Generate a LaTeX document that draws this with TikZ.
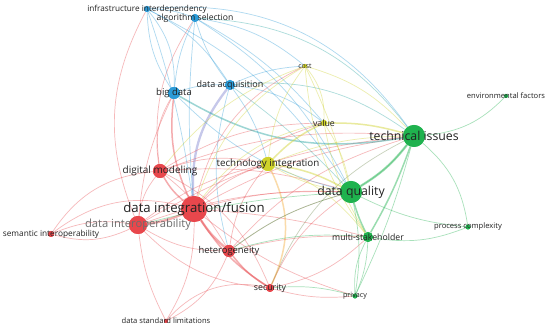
\documentclass[tikz,border=0pt]{standalone}
\usepackage{fontspec}
\setmainfont{Open Sans}
\definecolor{cR}{HTML}{E8474C}
\definecolor{cB}{HTML}{2B9BD8}
\definecolor{cG}{HTML}{1FB24E}
\definecolor{cY}{HTML}{CFD22A}
\definecolor{cL}{HTML}{8E92D6}
\definecolor{txt}{HTML}{222222}
\tikzset{
  nd/.style={circle,inner sep=0pt,draw=none},
  lbl/.style={text=txt,inner sep=0pt},
  e/.style={line width=0.7pt,draw opacity=0.38},
  eR/.style={e,draw=cR},
  eB/.style={e,draw=cB},
  eG/.style={e,draw=cG},
  eY/.style={e,draw=cY},
  eT/.style={e,draw=cB!60!cG},
  eO/.style={e,draw=orange!70!cY},
  eRG/.style={e,draw=cR!40!cG},
  thick1/.style={line width=1.5pt,draw opacity=0.45},
  thick2/.style={line width=2.3pt,draw opacity=0.45},
}
\begin{document}
\begin{tikzpicture}[x=1pt,y=-1pt]
\useasboundingbox[fill=white] (0,0) rectangle (550,328);
% nodes
\node[nd,fill=cB,minimum size=6pt] (inf) at (147,9) {};
\node[nd,fill=cB,minimum size=8pt] (alg) at (195,18) {};
\node[nd,fill=cB,minimum size=12pt] (big) at (174,93) {};
\node[nd,fill=cB,minimum size=10pt] (acq) at (230,85) {};
\node[nd,fill=cY,minimum size=4pt] (cost) at (305,66) {};
\node[nd,fill=cY,minimum size=6pt] (val) at (324,123) {};
\node[nd,fill=cG,minimum size=22pt] (tech) at (414,136) {};
\node[nd,fill=cG,minimum size=4pt] (env) at (506,96) {};
\node[nd,fill=cY,minimum size=14pt] (ti) at (268,164) {};
\node[nd,fill=cR,minimum size=14pt] (dm) at (160,171) {};
\node[nd,fill=cR,minimum size=26pt] (dif) at (194,209) {};
\node[nd,fill=cR,minimum size=18pt] (dio) at (138,225) {};
\node[nd,fill=cR,minimum size=6pt] (sem) at (51,234) {};
\node[nd,fill=cR,minimum size=12pt] (het) at (229,251) {};
\node[nd,fill=cR,minimum size=8pt] (sec) at (270,288) {};
\node[nd,fill=cR,minimum size=4pt] (dsl) at (166,321) {};
\node[nd,fill=cG,minimum size=22pt] (dq) at (351,192) {};
\node[nd,fill=cG,minimum size=10pt] (ms) at (368,237) {};
\node[nd,fill=cG,minimum size=5pt] (pc) at (468,227) {};
\node[nd,fill=cG,minimum size=5pt] (pri) at (355,296) {};
% red cluster edges
\draw[eR,thick2] (dif) to[bend left=8] (dio);
\draw[eR,thick1] (dif) to[bend left=10] (dm);
\draw[eR,thick2] (dif) to[bend right=8] (het);
\draw[eR,thick1] (dif) to[bend right=12] (sec);
\draw[eR] (dif) to[bend right=25] (sem);
\draw[eR] (dio) to[bend left=20] (sem);
\draw[eR] (dio) to[bend right=15] (sem);
\draw[eR] (dm) to[bend right=25] (sem);
\draw[eR] (dif) to[bend left=15] (dsl);
\draw[eR] (dio) to[bend right=10] (dsl);
\draw[eR] (het) to[bend left=20] (dsl);
\draw[eR] (sec) to[bend right=30] (dsl);
\draw[eR] (dm) to[bend right=15] (dio);
\draw[eR] (dm) to[bend left=10] (het);
\draw[eR] (dm) to[bend left=20] (sec);
\draw[eR] (dio) to[bend right=15] (het);
\draw[eR] (dio) to[bend right=20] (sec);
\draw[eR,thick1] (het) to[bend right=10] (sec);
\draw[eR,thick1] (big) to[bend right=15] (dif);
\draw[e,draw=cL,thick2,draw opacity=0.5] (acq) to[bend right=20] (dif);
\draw[eR] (big) to[bend right=20] (dm);
\draw[eR] (big) to[bend right=10] (dio);
\draw[eR] (alg) to[bend right=20] (dm);
\draw[eR] (inf) to[bend right=25] (dio);
\draw[eR] (dm) to[bend left=15] (ti);
\draw[eR] (dm) to[bend left=15] (val);
\draw[eR] (dm) to[bend left=12] (tech);
\draw[eR] (dm) to[bend left=10] (dq);
\draw[eR] (dif) to[bend left=12] (ti);
\draw[eR] (dif) to[bend left=15] (val);
\draw[eR] (dif) to[bend left=10] (tech);
\draw[eR] (dif) to[bend left=8] (dq);
\draw[eR] (dif) to[bend left=5] (ms);
\draw[eR] (dif) to[bend right=10] (pri);
\draw[eR] (dif) to[bend left=25] (cost);
\draw[eR] (dio) to[bend left=12] (ti);
\draw[eR] (dio) to[bend left=10] (dq);
\draw[eR] (dio) to[bend left=12] (tech);
\draw[eR] (het) to[bend left=10] (dq);
\draw[eR] (het) to[bend left=15] (tech);
\draw[eR] (het) to[bend left=8] (ms);
\draw[eR] (het) to[bend left=15] (ti);
\draw[eR] (sec) to[bend left=15] (dq);
\draw[eR] (sec) to[bend right=15] (ms);
\draw[eR] (sec) to[bend right=10] (pri);
\draw[eRG] (sec) to[bend left=20] (tech);
\draw[eO,thick1,draw opacity=0.35] (sec) to[bend right=25] (ti);
% blue cluster edges
\draw[eB] (big) to[bend left=10] (alg);
\draw[eB] (big) to[bend left=15] (inf);
\draw[eB] (big) to[bend right=20] (inf);
\draw[eB] (big) to[bend left=10] (acq);
\draw[eT,thick1] (big) to[bend right=20] (tech);
\draw[eB] (big) to[bend right=15] (dq);
\draw[eB] (acq) to[bend left=10] (alg);
\draw[eB] (acq) to[bend right=15] (inf);
\draw[eB] (inf) to[bend left=10] (alg);
\draw[eT] (acq) to[bend left=20] (tech);
\draw[eT] (acq) to[bend left=5] (dq);
\draw[eB] (acq) to[bend left=15] (val);
\draw[eB] (acq) to[bend left=10] (cost);
\draw[eB] (acq) to[bend left=10] (ti);
\draw[eB] (acq) to[bend right=15] (het);
\draw[eT] (alg) to[bend left=25] (tech);
\draw[eB] (alg) to[bend left=15] (dq);
\draw[eB] (alg) to[bend left=15] (cost);
\draw[eB] (alg) to[bend left=10] (val);
\draw[eB] (alg) to[bend right=5] (dif);
\draw[eB] (inf) to[bend left=30] (tech);
\draw[eB] (inf) to[bend left=15] (dq);
\draw[eB] (inf) to[bend left=5] (dif);
% yellow cluster edges
\draw[eY,thick1] (ti) to[bend left=10] (val);
\draw[eY] (ti) to[bend left=15] (cost);
\draw[eY,thick1] (ti) to[bend left=10] (dq);
\draw[eY] (ti) to[bend left=10] (tech);
\draw[eY] (ti) to[bend left=15] (ms);
\draw[eY] (ti) to[bend right=10] (dq);
\draw[eY,thick1] (val) to[bend left=8] (tech);
\draw[eY] (val) to[bend left=10] (dq);
\draw[eY] (val) to[bend right=10] (ms);
\draw[eY] (val) to[bend right=20] (cost);
\draw[eY] (cost) to[bend left=15] (tech);
\draw[eY] (cost) to[bend left=5] (dq);
\draw[eY] (cost) to[bend right=15] (ms);
\draw[eY] (val) to[bend right=20] (dif);
\draw[eY] (cost) to[bend right=20] (dif);
\draw[eY] (cost) to[bend right=15] (dm);
% green cluster edges
\draw[eG,thick2] (tech) to[bend left=10] (dq);
\draw[eG,thick1] (tech) to[bend left=5] (ms);
\draw[eG] (tech) to[bend right=20] (env);
\draw[eG] (tech) to[bend left=20] (pc);
\draw[eG] (tech) to[bend left=5] (pri);
\draw[eG,thick1] (dq) to[bend right=5] (ms);
\draw[eG] (dq) to[bend right=10] (pc);
\draw[eG] (dq) to[bend left=10] (pri);
\draw[eG] (ms) to[bend right=15] (pc);
\draw[eG] (ms) to[bend left=10] (pri);
\draw[eG] (ms) to[bend right=15] (pri);
\draw[eG] (pri) to[bend right=10] (sec);
\draw[eG] (ms) to[bend right=10] (het);
\draw[eG] (dq) to[bend right=10] (tech);
\draw[eG] (dq) to[bend right=10] (het);
\draw[eG] (dq) to[bend right=5] (dio);
% node discs on top of the edges
\foreach \c/\s/\x/\y in {cB/6/147/9,cB/8/195/18,cB/12/174/93,cB/10/230/85,cY/4/305/66,cY/6/324/123,cG/22/414/136,cG/4/506/96,cY/14/268/164,cR/14/160/171,cR/26/194/209,cR/18/138/225,cR/6/51/234,cR/12/229/251,cR/8/270/288,cR/4/166/321,cG/22/351/192,cG/10/368/237,cG/5/468/227,cG/5/355/296}
  {\fill[\c] (\x,\y) circle[radius=\s/2];}
% labels
\node[lbl,font=\fontsize{8.2}{9}\selectfont] (linf) at (inf) {infrastructure interdependency};
\node[lbl,font=\fontsize{8.6}{9}\selectfont] (lalg) at (alg) {algorithm selection};
\node[lbl,font=\fontsize{9.5}{10}\selectfont] (lbig) at (big) {big data};
\node[lbl,font=\fontsize{9}{10}\selectfont] (lacq) at (acq) {data acquisition};
\node[lbl,font=\fontsize{6.9}{7}\selectfont] (lcost) at (cost) {cost};
\node[lbl,font=\fontsize{8.8}{9}\selectfont] (lval) at (val) {value};
\node[lbl,font=\fontsize{12.3}{13}\selectfont] (ltech) at (tech) {technical issues};
\node[lbl,font=\fontsize{7.6}{8}\selectfont] (lenv) at (env) {environmental factors};
\node[lbl,font=\fontsize{9.8}{10}\selectfont] (lti) at (ti) {technology integration};
\node[lbl,font=\fontsize{10}{11}\selectfont] (ldm) at (dm) {digital modeling};
\node[lbl,font=\fontsize{13.2}{14}\selectfont] (ldif) at (dif) {data integration/fusion};
\node[lbl,text=gray!85!black,font=\fontsize{11.2}{12}\selectfont] (ldio) at (dio) {data interoperability};
\node[lbl,font=\fontsize{8.3}{9}\selectfont] (lsem) at (sem) {semantic interoperability};
\node[lbl,font=\fontsize{9.4}{10}\selectfont] (lhet) at (het) {heterogeneity};
\node[lbl,font=\fontsize{8.8}{9}\selectfont] (lsec) at (sec) {security};
\node[lbl,font=\fontsize{7.6}{8}\selectfont] (ldsl) at (dsl) {data standard limitations};
\node[lbl,font=\fontsize{12.3}{13}\selectfont] (ldq) at (dq) {data quality};
\node[lbl,font=\fontsize{8.7}{9}\selectfont] (lms) at (ms) {multi-stakeholder};
\node[lbl,font=\fontsize{7.6}{8}\selectfont] (lpc) at (pc) {process complexity};
\node[lbl,font=\fontsize{7.2}{8}\selectfont] (lpri) at (pri) {privacy};
\end{tikzpicture}
\end{document}
